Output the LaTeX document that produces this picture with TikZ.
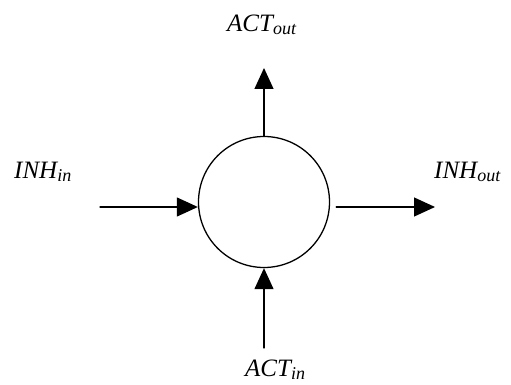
\documentclass[tikz,border=0pt]{standalone}
\usepackage{fontspec}
\setmainfont{Liberation Serif}
\usetikzlibrary{arrows.meta}
\newcommand{\sublbl}[2]{#1\raisebox{-3pt}{\fontsize{18}{20}\selectfont #2}}
\begin{document}
\begin{tikzpicture}[x=1pt,y=-1pt,>={Triangle[length=21pt,width=19pt]}, font=\fontsize{25}{28}\selectfont\itshape, line join=round, line cap=round]
\useasboundingbox (0,0) rectangle (511,385);
\node[draw,circle,line width=1.3pt,minimum size=131pt,inner sep=0pt] (cell) at (264,202) {};
\coordinate (actout) at (264,68);
\coordinate (inhin) at (100,207);
\coordinate (inhout) at (435,207);
\coordinate (actin) at (264,348);
\draw[->,line width=1.2pt] (cell.north) -- (actout);
\draw[->,line width=1.2pt] (inhin) -- (inhin-|cell.west);
\draw[->,line width=1.2pt] ([xshift=6pt]inhout-|cell.east) -- (inhout);
\draw[->,line width=1.2pt] (actin) -- (cell.south);
\node[anchor=base west,inner sep=0pt] (actoutlbl) at (227,32) {\sublbl{ACT}{out}};
\node[anchor=base west,inner sep=0pt] (inhinlbl) at (14,178) {\sublbl{INH}{in}};
\node[anchor=base west,inner sep=0pt] (inhoutlbl) at (434,178) {\sublbl{INH}{out}};
\node[anchor=base west,inner sep=0pt] (actinlbl) at (245,376) {\sublbl{ACT}{in}};
\end{tikzpicture}
\end{document}
